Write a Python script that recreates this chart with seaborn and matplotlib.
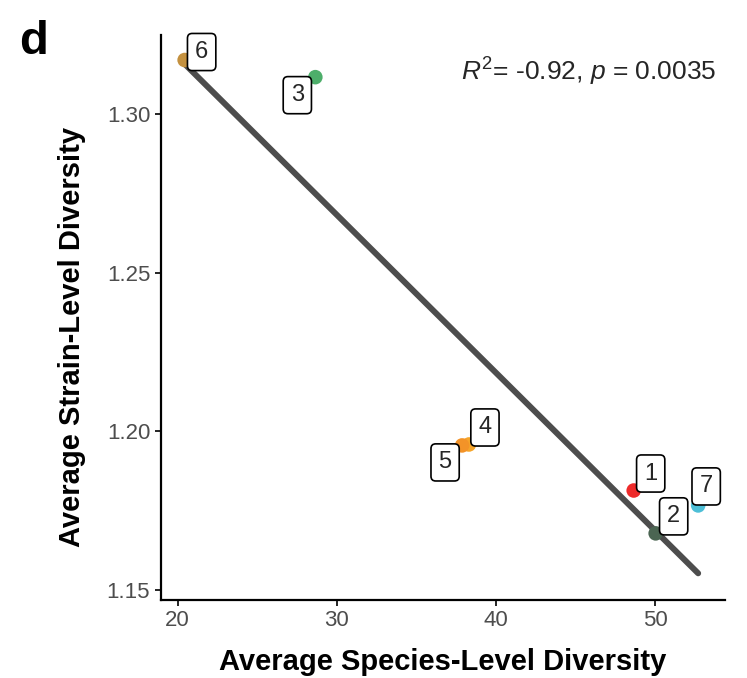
import numpy as np
import pandas as pd
import matplotlib
matplotlib.use("Agg")
import matplotlib.pyplot as plt
import seaborn as sns

# data
labels = ["1", "2", "3", "4", "5", "6", "7"]
species_div = [48.65, 50.03, 28.65, 38.30, 37.87, 20.44, 52.70]
strain_div = [1.1814, 1.1679, 1.3116, 1.1959, 1.1956, 1.3170, 1.1767]
colors = ["#EE2B2B", "#4B6552", "#4DAE6A", "#F6A52A", "#F39328", "#C4913F", "#4DBFD7"]
# label offsets (pixels) in the style of ggrepel
offsets = [(17, 17), (18, 17), (-18, -18), (16, 17), (-17, -17), (17, 8), (8, 19)]

df = pd.DataFrame({"species": species_div, "strain": strain_div, "label": labels})

sns.set_theme(style="ticks")
plt.rcParams["font.family"] = ["Liberation Sans", "DejaVu Sans"]
plt.rcParams["mathtext.fontset"] = "custom"
plt.rcParams["mathtext.rm"] = "Liberation Sans"
plt.rcParams["mathtext.it"] = "Liberation Sans:italic"

fig, ax = plt.subplots(figsize=(7.47, 6.78), dpi=100)
fig.subplots_adjust(left=0.215, right=0.97, bottom=0.115, top=0.948)

sns.regplot(data=df, x="species", y="strain", scatter=False, ci=None, ax=ax,
            truncate=True, line_kws={"color": "#4D4D4D", "lw": 4.3, "zorder": 1})
sns.scatterplot(data=df, x="species", y="strain", hue="label", palette=colors,
                s=110, edgecolor="none", legend=False, ax=ax, zorder=2)

for lab, x, y, off in zip(labels, species_div, strain_div, offsets):
    ax.annotate(lab, (x, y), xytext=off, textcoords="offset pixels",
                ha="center", va="center", fontsize=17, zorder=3,
                bbox=dict(boxstyle="round,pad=0.32,rounding_size=0.2",
                          fc="white", ec="black", lw=1.2))

ax.text(0.985, 0.935, r"$R^2$= -0.92, $p$ = 0.0035", transform=ax.transAxes,
        ha="right", va="center", fontsize=19)

ax.set_xlim(18.93, 54.36)
ax.set_ylim(1.1469, 1.3248)
ax.set_xticks([20, 30, 40, 50])
ax.set_yticks([1.15, 1.20, 1.25, 1.30])
ax.set_yticklabels(["1.15", "1.20", "1.25", "1.30"])
ax.tick_params(labelsize=16, labelcolor="#4D4D4D", length=4, width=1.2, color="black")
for s in ["left", "bottom"]:
    ax.spines[s].set_linewidth(1.6)
    ax.spines[s].set_color("black")
sns.despine(ax=ax)

ax.set_xlabel("Average Species-Level Diversity", fontsize=21, fontweight="bold",
              labelpad=12, color="black")
ax.set_ylabel("Average Strain-Level Diversity", fontsize=21, fontweight="bold",
              color="black")
ax.yaxis.set_label_coords(-0.133, 0.465)

fig.text(0.025, 0.97, "d", fontsize=34, fontweight="bold", ha="left", va="top", color="black")

fig.savefig("out.png", dpi=100)
